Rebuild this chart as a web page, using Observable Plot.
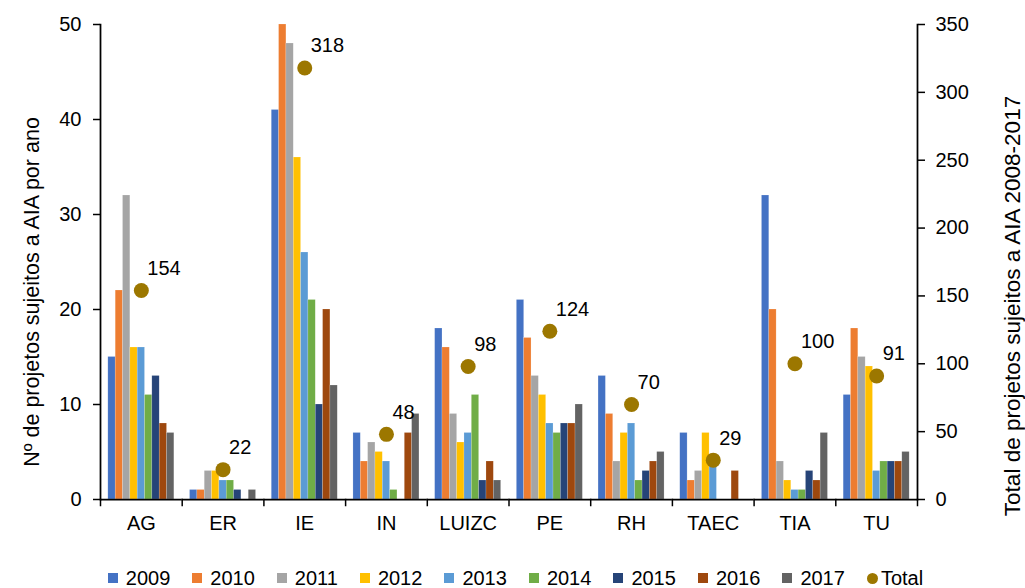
<!DOCTYPE html>
<html>
<head>
<meta charset="utf-8">
<script src="https://cdn.jsdelivr.net/npm/d3@7"></script>
<script src="https://cdn.jsdelivr.net/npm/@observablehq/plot@0.6"></script>
<style>
  html, body { margin: 0; padding: 0; background: #fff; }
  body { width: 1025px; height: 588px; overflow: hidden; position: relative; font-family: "Liberation Sans", Arial, sans-serif; }
  #chart svg { display: block; }
  #legend { position: absolute; left: 0; top: 568px; width: 1025px; height: 20px; display: flex; justify-content: center; align-items: center; gap: 22px; font-size: 20px; line-height: 20px; color: #000; padding-left: 6px; box-sizing: border-box; }
  .item { display: flex; align-items: center; }
  .sw { width: 10px; height: 10px; margin-right: 8px; }
  .dotsw { width: 11px; height: 11px; border-radius: 50%; margin-right: 3px; }
</style>
</head>
<body>
<div id="chart"></div>
<div id="legend"></div>
<script>
const categories = ["AG", "ER", "IE", "IN", "LUIZC", "PE", "RH", "TAEC", "TIA", "TU"];
const years = ["2009", "2010", "2011", "2012", "2013", "2014", "2015", "2016", "2017"];
const v2009 = [15, 1, 41, 7, 18, 21, 13, 7, 32, 11];
const v2010 = [22, 1, 50, 4, 16, 17, 9, 2, 20, 18];
const v2011 = [32, 3, 48, 6, 9, 13, 4, 3, 4, 15];
const v2012 = [16, 3, 36, 5, 6, 11, 7, 7, 2, 14];
const v2013 = [16, 2, 26, 4, 7, 8, 8, 4, 1, 3];
const v2014 = [11, 2, 21, 1, 11, 7, 2, 0, 1, 4];
const v2015 = [13, 1, 10, 0, 2, 8, 3, 0, 3, 4];
const v2016 = [8, 0, 20, 7, 4, 8, 4, 3, 2, 4];
const v2017 = [7, 1, 12, 9, 2, 10, 5, 0, 7, 5];
const totals = [154, 22, 318, 48, 98, 124, 70, 29, 100, 91];
const leftTicks = [0, 10, 20, 30, 40, 50];
const rightTicks = [0, 50, 100, 150, 200, 250, 300, 350];
const yearColors = ["#4472C4", "#ED7D31", "#A5A5A5", "#FFC000", "#5B9BD5", "#70AD47", "#264478", "#9E480E", "#636363"];
const totalColor = "#9C7700";
const leftTitle = "Nº de projetos sujeitos a AIA por ano";
const rightTitle = "Total de projetos sujeitos a AIA 2008-2017";

const series = [v2009, v2010, v2011, v2012, v2013, v2014, v2015, v2016, v2017];
const rows = categories.flatMap((c, i) => years.map((y, j) => ({cat: c, year: y, value: series[j][i]})));
const totalRows = categories.map((c, i) => ({cat: c, total: totals[i]}));
const leftMax = 50, rightMax = 350;
const toLeft = t => t * leftMax / rightMax;

const W = 1025, H = 560, mT = 24, mB = 61, mL = 100, mR = 108;
const innerH = H - mT - mB;

const plot = Plot.plot({
  width: W, height: H,
  marginTop: mT, marginBottom: mB, marginLeft: mL, marginRight: mR,
  style: {fontFamily: "Liberation Sans, Arial, sans-serif", fontSize: "20px", color: "#000", background: "#fff"},
  fx: {domain: categories, padding: 0, round: false},
  x: {domain: years, paddingInner: 0, paddingOuter: 1.07, round: false, axis: null},
  y: {domain: [0, leftMax]},
  color: {domain: years, range: yearColors},
  marks: [
    Plot.barY(rows, {fx: "cat", x: "year", y: "value", fill: "year", stroke: "#fff", strokeOpacity: 0.35, strokeWidth: 0.5}),
    Plot.ruleY([0], {stroke: "#000", strokeWidth: 1.75}),
    Plot.frame({anchor: "left", facetAnchor: "left", stroke: "#000", strokeWidth: 1.75}),
    Plot.frame({anchor: "right", facetAnchor: "right", stroke: "#000", strokeWidth: 1.75}),
    Plot.frame({anchor: "left", insetTop: innerH, insetBottom: -6, stroke: "#000", strokeWidth: 1.5}),
    Plot.frame({anchor: "right", facetAnchor: "right", insetTop: innerH, insetBottom: -6, stroke: "#000", strokeWidth: 1.5}),
    Plot.axisY({anchor: "left", ticks: leftTicks, tickSize: 7, tickPadding: 12, label: null, strokeWidth: 1.5}),
    Plot.axisY({anchor: "right", ticks: rightTicks.map(toLeft), tickFormat: d => String(Math.round(d * rightMax / leftMax)), tickSize: 7, tickPadding: 11, label: null, strokeWidth: 1.5}),
    Plot.axisFx({anchor: "bottom", tickSize: 0, tickPadding: 16, label: null}),
    Plot.dot(totalRows, {fx: "cat", y: d => toLeft(d.total), r: 7.5, fill: totalColor}),
    Plot.text(totalRows, {fx: "cat", y: d => toLeft(d.total), text: d => String(d.total), textAnchor: "start", dx: 6, dy: -22, fontSize: 20, fill: "#000"})
  ]
});
document.getElementById("chart").appendChild(plot);

// axis titles
const svg = d3.select(plot);
svg.append("text")
  .attr("transform", "translate(31,292) rotate(-90)")
  .attr("text-anchor", "middle").attr("dy", "0.35em")
  .attr("font-size", 21.5).attr("fill", "#000")
  .text(leftTitle);
svg.append("text")
  .attr("transform", "translate(1012,306) rotate(-90)")
  .attr("text-anchor", "middle").attr("dy", "0.35em")
  .attr("font-size", 22.5).attr("fill", "#000")
  .text(rightTitle);

// legend
const legend = d3.select("#legend");
years.forEach((y, j) => {
  const it = legend.append("div").attr("class", "item");
  it.append("div").attr("class", "sw").style("background", yearColors[j]);
  it.append("span").text(y);
});
const tot = legend.append("div").attr("class", "item");
tot.append("div").attr("class", "dotsw").style("background", totalColor);
tot.append("span").text("Total");
</script>
</body>
</html>
